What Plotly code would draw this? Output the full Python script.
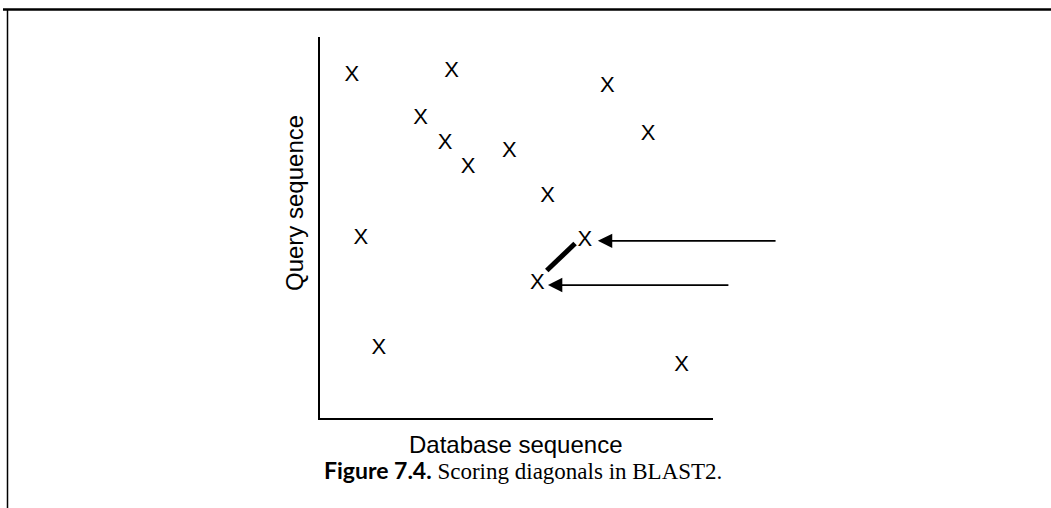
import plotly.graph_objects as go

# Hit positions (database position, query position) in arbitrary 0-100 units
hit_x = [8.1, 33.5, 73.1, 25.6, 83.5, 31.8, 48.2, 37.7, 57.9, 10.4, 67.4, 55.3, 15.0, 92.0]
hit_y = [90.0, 90.9, 87.0, 78.7, 74.3, 72.1, 69.9, 65.8, 58.1, 47.2, 46.5, 35.2, 18.3, 13.9]
hit_label = ["X"] * len(hit_x)

# Diagonal joining the two hits on the same diagonal
diag_x = [57.7, 64.9]
diag_y = [38.7, 45.8]

# Arrows: tip (x, y) and tail x
arrow_tip_x = [70.7, 58.0]
arrow_tip_y = [46.5, 34.9]
arrow_tail_x = [116.3, 104.3]

W, H = 1051, 508

fig = go.Figure()
fig.add_trace(go.Scatter(
    x=hit_x, y=hit_y, mode="text", text=hit_label,
    textposition="middle center",
    textfont=dict(family="Liberation Sans, Arial, sans-serif", size=22, color="black"),
    hoverinfo="skip", showlegend=False))
fig.add_trace(go.Scatter(
    x=diag_x, y=diag_y, mode="lines",
    line=dict(color="black", width=5),
    hoverinfo="skip", showlegend=False))

for tx, ty, ax in zip(arrow_tip_x, arrow_tip_y, arrow_tail_x):
    fig.add_annotation(x=tx, y=ty, ax=ax, ay=ty, xref="x", yref="y",
                       axref="x", ayref="y", showarrow=True, text="",
                       arrowhead=2, arrowsize=1.6, arrowwidth=1.8,
                       arrowcolor="black", standoff=0)

font_sans = "Liberation Sans, Arial, sans-serif"
fig.add_annotation(text="Query sequence", textangle=-90, x=295 / W, y=1 - 203 / H,
                   xref="paper", yref="paper", showarrow=False,
                   xanchor="center", yanchor="middle",
                   font=dict(family=font_sans, size=24, color="black"))
fig.add_annotation(text="Database sequence", x=516 / W, y=1 - 444 / H,
                   xref="paper", yref="paper", showarrow=False,
                   xanchor="center", yanchor="middle",
                   font=dict(family=font_sans, size=24, color="black"))
fig.add_annotation(
    text='<span style="font-family:Lato;font-weight:bold">Figure 7.4.</span> Scoring diagonals in BLAST2.',
    x=523 / W, y=1 - 470 / H, xref="paper", yref="paper", showarrow=False,
    xanchor="center", yanchor="middle",
    font=dict(family="Liberation Serif, Times New Roman, serif", size=23, color="black"))

# Page frame (top rule and left rule)
fig.add_shape(type="line", xref="paper", yref="paper",
              x0=3 / W, x1=1, y0=1 - 9.5 / H, y1=1 - 9.5 / H,
              line=dict(color="black", width=2.5))
fig.add_shape(type="line", xref="paper", yref="paper",
              x0=7.5 / W, x1=7.5 / W, y0=1 - 9.5 / H, y1=0,
              line=dict(color="black", width=1.5))

fig.update_layout(
    width=W, height=H,
    margin=dict(l=0, r=0, t=0, b=0),
    paper_bgcolor="white", plot_bgcolor="white",
    xaxis=dict(domain=[320 / W, 713 / W], range=[0, 100], showgrid=False,
               zeroline=False, showticklabels=False, ticks="",
               showline=True, linecolor="black", linewidth=2, fixedrange=True),
    yaxis=dict(domain=[1 - 418 / H, 1 - 37 / H], range=[0, 100], showgrid=False,
               zeroline=False, showticklabels=False, ticks="",
               showline=True, linecolor="black", linewidth=2, fixedrange=True),
)

fig.write_html("out.html", config={"displayModeBar": False},
               post_script="document.body.style.margin='0';document.body.style.overflow='hidden';")
